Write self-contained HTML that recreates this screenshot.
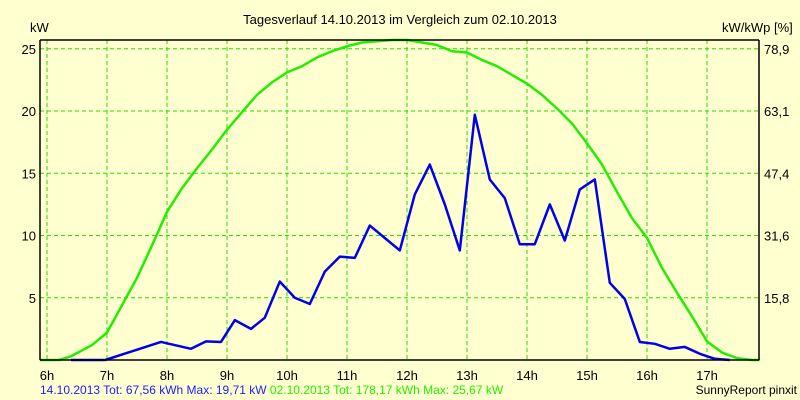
<!DOCTYPE html>
<html><head><meta charset="utf-8"><style>
body{margin:0;background:#ffffd0;}
svg{display:block;font-family:"Liberation Sans",Arial,sans-serif;}
</style></head><body>
<svg id="chart" width="800" height="400" viewBox="0 0 800 400">
<rect width="800" height="400" fill="#ffffd0"/>
<text x="400" y="24" text-anchor="middle" font-size="13" fill="#000">Tagesverlauf 14.10.2013 im Vergleich zum 02.10.2013</text>
<text x="30" y="32" font-size="13" fill="#000">kW</text>
<text x="722" y="32" font-size="13" fill="#000">kW/kWp [%]</text>
<g id="grid"></g>
<g id="series"></g>
<line x1="40" y1="40" x2="40" y2="360" stroke="#000" stroke-width="1.5"/>
<line x1="759" y1="40" x2="759" y2="360" stroke="#000" stroke-width="1.5"/>
<line x1="40" y1="40" x2="759" y2="40" stroke="#000" stroke-width="1.5"/>
<line x1="40" y1="360" x2="759" y2="360" stroke="#000" stroke-width="1.5"/>
<g id="labels"></g>
<text x="40" y="394" font-size="12"><tspan fill="#2020ff">14.10.2013 Tot: 67,56 kWh Max: 19,71 kW </tspan><tspan fill="#22ee00">02.10.2013 Tot: 178,17 kWh Max: 25,67 kW</tspan></text>
<text x="797" y="394" text-anchor="end" font-size="12" fill="#000">SunnyReport pinxit</text>
</svg>
<script>
const hourTicks=[6,7,8,9,10,11,12,13,14,15,16,17];
const kwTicks=[5,10,15,20,25];
const pctTicks=["15,8","31,6","47,4","63,1","78,9"];
const blueTimes=[6.4,6.97,7.9,8.4,8.65,8.9,9.13,9.4,9.63,9.88,10.13,10.38,10.63,10.88,11.13,11.38,11.63,11.88,12.13,12.38,12.63,12.88,13.13,13.38,13.63,13.88,14.13,14.38,14.63,14.88,15.13,15.38,15.63,15.88,16.13,16.38,16.63,16.88,17.13,17.38];
const blueValues=[0,0,1.45,0.9,1.5,1.45,3.2,2.5,3.4,6.3,5.0,4.5,7.1,8.3,8.2,10.8,9.8,8.8,13.3,15.7,12.5,8.8,19.7,14.5,13.0,9.3,9.3,12.5,9.6,13.7,14.5,6.2,4.9,1.45,1.3,0.9,1.05,0.5,0.1,0];
const greenTimes=[5.88,6.2,6.4,6.75,7.0,7.25,7.5,7.75,8.0,8.25,8.5,8.75,9.0,9.25,9.5,9.75,10.0,10.25,10.5,10.75,11.0,11.25,11.5,11.75,12.0,12.25,12.5,12.75,13.0,13.25,13.5,13.75,14.0,14.25,14.5,14.75,15.0,15.25,15.5,15.75,16.0,16.25,16.5,16.75,17.0,17.25,17.5,17.75,17.88];
const greenValues=[0,0,0.3,1.2,2.2,4.4,6.6,9.2,11.9,13.8,15.4,16.9,18.5,19.9,21.3,22.3,23.1,23.6,24.3,24.8,25.2,25.5,25.6,25.7,25.7,25.5,25.3,24.8,24.7,24.1,23.6,22.9,22.2,21.3,20.2,19.0,17.4,15.7,13.5,11.4,9.8,7.4,5.4,3.5,1.5,0.6,0.15,0,0];
const NS="http://www.w3.org/2000/svg";
const xS=h=>47+(h-6)*60;
const yS=v=>Math.max(40,360-v*12.45);
const grid=document.getElementById('grid'),lab=document.getElementById('labels'),ser=document.getElementById('series');
function mk(tag,attrs,parent){const e=document.createElementNS(NS,tag);for(const k in attrs)e.setAttribute(k,attrs[k]);parent.appendChild(e);return e;}
hourTicks.forEach(h=>{
  const l=mk('line',{x1:xS(h),x2:xS(h),y1:40,y2:360,stroke:'#22dd00','stroke-dasharray':'4,3'},grid);
  
  
  const t=mk('text',{x:xS(h),y:380,'text-anchor':'middle','font-size':13},lab);
  t.textContent=h+'h';
  
  
});
kwTicks.forEach((v,i)=>{
  const l=mk('line',{x1:40,x2:759,y1:yS(v),y2:yS(v),stroke:'#22dd00','stroke-dasharray':'4,3'},grid);
  
  
  const t=mk('text',{x:36,y:yS(v)+5,'text-anchor':'end','font-size':13},lab);
  t.textContent=v;
  
  
  const r=mk('text',{x:764,y:yS(v)+5,'font-size':13},lab);
  r.textContent=pctTicks[i];
  
  
});
const g=mk('polyline',{points:greenTimes.map((h,i)=>xS(h)+','+yS(greenValues[i])).join(' '),fill:'none',stroke:'#22ee00','stroke-width':2.5,'stroke-linejoin':'round'},ser);


const b=mk('polyline',{points:blueTimes.map((h,i)=>xS(h)+','+yS(blueValues[i])).join(' '),fill:'none',stroke:'#0000ee','stroke-width':2.5,'stroke-linejoin':'round'},ser);


</script>
</body></html>
